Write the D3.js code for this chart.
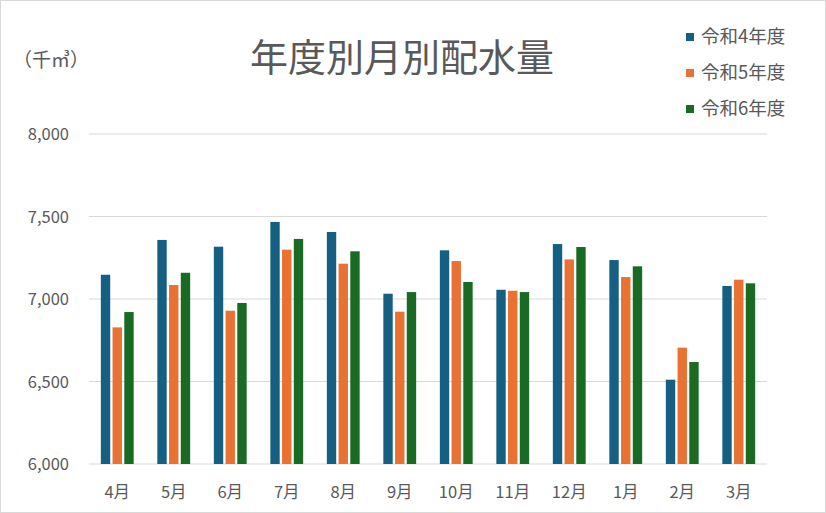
<!DOCTYPE html>
<html>
<head>
<meta charset="utf-8">
<script src="https://cdn.jsdelivr.net/npm/d3@7"></script>
<style>
  html, body { margin: 0; padding: 0; background: #fff; }
  svg { display: block; font-family: "Noto Sans CJK JP", "Noto Sans", sans-serif; }
</style>
</head>
<body>
<div id="chart"></div>
<script>
var months = ["4月", "5月", "6月", "7月", "8月", "9月", "10月", "11月", "12月", "1月", "2月", "3月"]
var seriesNames = ["令和4年度", "令和5年度", "令和6年度"]
var colors = ["#156082", "#E97132", "#196B24"]

var r4 = [7147, 7358, 7317, 7467, 7406, 7032, 7295, 7056, 7333, 7236, 6511, 7079]
var r5 = [6828, 7085, 6929, 7299, 7214, 6923, 7230, 7050, 7240, 7133, 6705, 7117]
var r6 = [6921, 7159, 6976, 7364, 7289, 7042, 7103, 7042, 7315, 7198, 6618, 7095]

var yTicks = [6000, 6500, 7000, 7500, 8000]

var W = 826, H = 513
var margin = {top: 134, right: 59, bottom: 49, left: 89},
    width  = W - margin.left - margin.right,
    height = H - margin.top - margin.bottom

var svg = d3.select("#chart").append("svg")
  .attr("width", W)
  .attr("height", H)

// outer frame
svg.append("rect")
  .attr("x", 0.5).attr("y", 0.5)
  .attr("width", W - 1).attr("height", H - 1)
  .attr("fill", "#fff")
  .attr("stroke", "#d9d9d9")

var g = svg.append("g")
  .attr("transform", "translate(" + margin.left + "," + margin.top + ")")

var x0 = d3.scaleBand()
  .domain(months)
  .range([0, width])
  .paddingInner(0.336)
  .paddingOuter(0.168)

var x1 = d3.scaleBand()
  .domain(d3.range(seriesNames.length))
  .range([0, x0.bandwidth()])
  .padding(0.2)

var y = d3.scaleLinear()
  .domain([6000, 8000])
  .range([height, 0])

// gridlines
g.append("g")
  .selectAll("line")
  .data(yTicks)
  .join("line")
    .attr("x1", 0)
    .attr("x2", width)
    .attr("y1", d => y(d))
    .attr("y2", d => y(d))
    .attr("stroke", "#d9d9d9")
    .attr("stroke-width", 1)

var rows = months.map((m, i) => ({month: m, vals: [r4[i], r5[i], r6[i]]}))

g.append("g")
  .selectAll("g")
  .data(rows)
  .join("g")
    .attr("transform", d => "translate(" + x0(d.month) + ",0)")
  .selectAll("rect")
  .data(d => d.vals.map((v, k) => ({k: k, v: v})))
  .join("rect")
    .attr("x", d => x1(d.k))
    .attr("width", x1.bandwidth())
    .attr("y", d => y(d.v))
    .attr("height", d => y(6000) - y(d.v))
    .attr("fill", d => colors[d.k])

// y axis labels
g.append("g")
  .attr("transform", "translate(-17,0)")
  .call(d3.axisLeft(y).tickValues(yTicks).tickFormat(d3.format(",")).tickSize(0))
  .call(a => a.select(".domain").remove())
  .call(a => a.selectAll("text")
    .attr("dy", "0.35em")
    .attr("fill", "#595959")
    .style("font-size", "16.5px")
    .style("font-family", "'Noto Sans CJK JP', sans-serif"))

// x axis labels
g.append("g")
  .attr("transform", "translate(0," + height + ")")
  .call(d3.axisBottom(x0).tickSize(0).tickPadding(22))
  .call(a => a.select(".domain").remove())
  .call(a => a.selectAll("text")
    .attr("fill", "#595959")
    .style("font-size", "16.5px")
    .style("font-family", "'Noto Sans CJK JP', sans-serif"))

// title
svg.append("text")
  .attr("x", 402)
  .attr("y", 71)
  .attr("text-anchor", "middle")
  .style("font-size", "38px")
  .attr("fill", "#595959")
  .text("年度別月別配水量")

// unit label
svg.append("text")
  .attr("x", 13)
  .attr("y", 67)
  .style("font-size", "19px")
  .attr("fill", "#595959")
  .text("（千㎥）")

// legend
var legend = svg.append("g")
  .selectAll("g")
  .data(seriesNames)
  .join("g")
    .attr("transform", (d, i) => "translate(686," + (37 + i * 36) + ")")

legend.append("rect")
  .attr("x", 0)
  .attr("y", -4)
  .attr("width", 8)
  .attr("height", 8)
  .attr("fill", (d, i) => colors[i])

legend.append("text")
  .attr("x", 15)
  .attr("dy", "0.35em")
  .style("font-size", "18.5px")
  .attr("fill", "#595959")
  .text(d => d)
</script>
</body>
</html>
